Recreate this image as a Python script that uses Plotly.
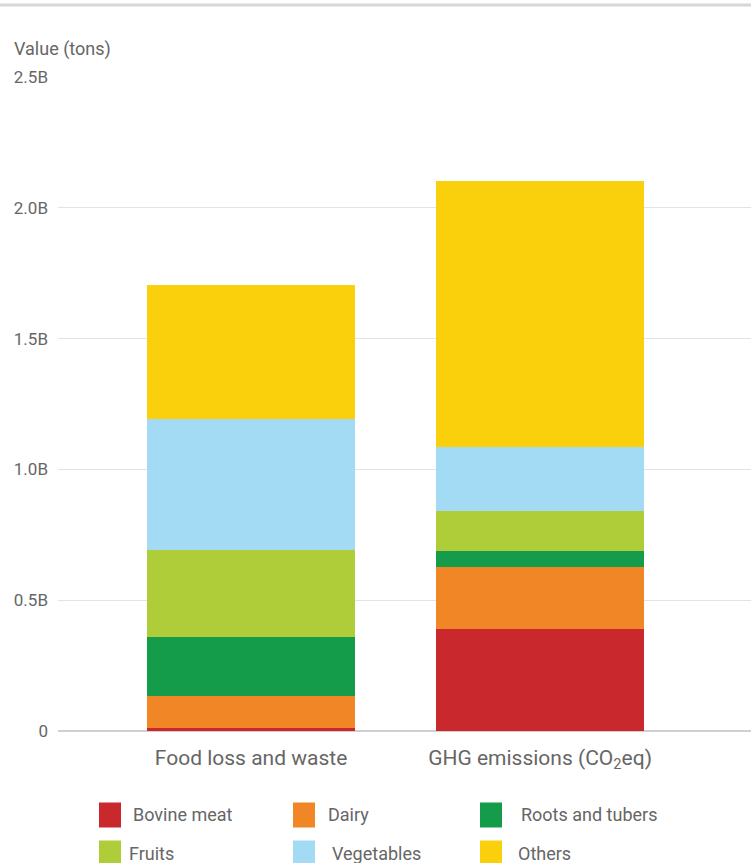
import plotly.graph_objects as go

categories = ["Food loss and waste", "GHG emissions (CO<sub>2</sub>eq)"]
series_names = ["Bovine meat", "Dairy", "Roots and tubers", "Fruits", "Vegetables", "Others"]
bovine_meat = [0.012, 0.39]
dairy = [0.122, 0.238]
roots_and_tubers = [0.226, 0.061]
fruits = [0.333, 0.153]
vegetables = [0.498, 0.245]
others = [0.513, 1.015]
tick_vals = [0, 0.5, 1.0, 1.5, 2.0, 2.5]
tick_text = ["0", "0.5B", "1.0B", "1.5B", "2.0B", "2.5B"]
colors = ["#c9282d", "#f08625", "#149c4a", "#aecd39", "#a3daf4", "#f9d00b"]

series_values = [bovine_meat, dairy, roots_and_tubers, fruits, vegetables, others]

FONT = "Roboto"
GREY = "#666666"
W, H = 751, 863

fig = go.Figure()
for name, vals, col in zip(series_names, series_values, colors):
    fig.add_trace(go.Bar(
        x=[0, 1], y=vals, name=name, marker=dict(color=col, line=dict(width=0)),
        width=0.72, showlegend=False, hoverinfo="name+y"))

fig.update_layout(
    width=W, height=H, barmode="stack",
    margin=dict(l=58, r=0, t=77, b=132),
    paper_bgcolor="white", plot_bgcolor="white",
    font=dict(family=FONT, color=GREY),
    xaxis=dict(range=[-0.668, 1.730], tickvals=[0, 1], ticktext=categories,
               tickfont=dict(size=21, color=GREY), showgrid=False, zeroline=False,
               showline=False, ticks="", ticklabelstandoff=12),
    yaxis=dict(range=[0, 2.5], tickvals=tick_vals, ticktext=tick_text,
               tickfont=dict(size=17, color=GREY), gridcolor="#e3e3e3", gridwidth=1,
               zeroline=True, zerolinecolor="#d0d0d0", zerolinewidth=2,
               showline=False, ticks="", ticklabelstandoff=9),
)

plot_l, plot_w, plot_t, plot_h = 58, 693, 77, 654
def px(x):
    return (x - plot_l) / plot_w
def py(y):
    return 1 - (y - plot_t) / plot_h

shapes = [dict(type="line", xref="paper", yref="paper", x0=px(0), x1=1, y0=py(5), y1=py(5),
               line=dict(color="#d6d6d6", width=3))]
annotations = [dict(text="Value (tons)", xref="paper", yref="paper",
                    x=px(12), y=py(49), xanchor="left", yanchor="middle",
                    showarrow=False, font=dict(size=18, color=GREY, family=FONT))]

# manual legend
sq_x = [99, 293, 480]
txt_x = [[131, 326, 519], [127, 330, 516]]
row_y = [815, 853]
for i, (name, col) in enumerate(zip(series_names, colors)):
    r, c = divmod(i, 3)
    cy = row_y[r]
    shapes.append(dict(type="rect", xref="paper", yref="paper",
                       x0=px(sq_x[c]), x1=px(sq_x[c] + 22), y0=py(cy + 12.5), y1=py(cy - 12.5),
                       fillcolor=col, line=dict(width=0)))
    annotations.append(dict(text=name, xref="paper", yref="paper", x=px(txt_x[r][c]), y=py(cy),
                            xanchor="left", yanchor="middle", showarrow=False,
                            font=dict(size=18, color=GREY, family=FONT)))

fig.update_layout(shapes=shapes, annotations=annotations)
fig.write_html("out.html")
